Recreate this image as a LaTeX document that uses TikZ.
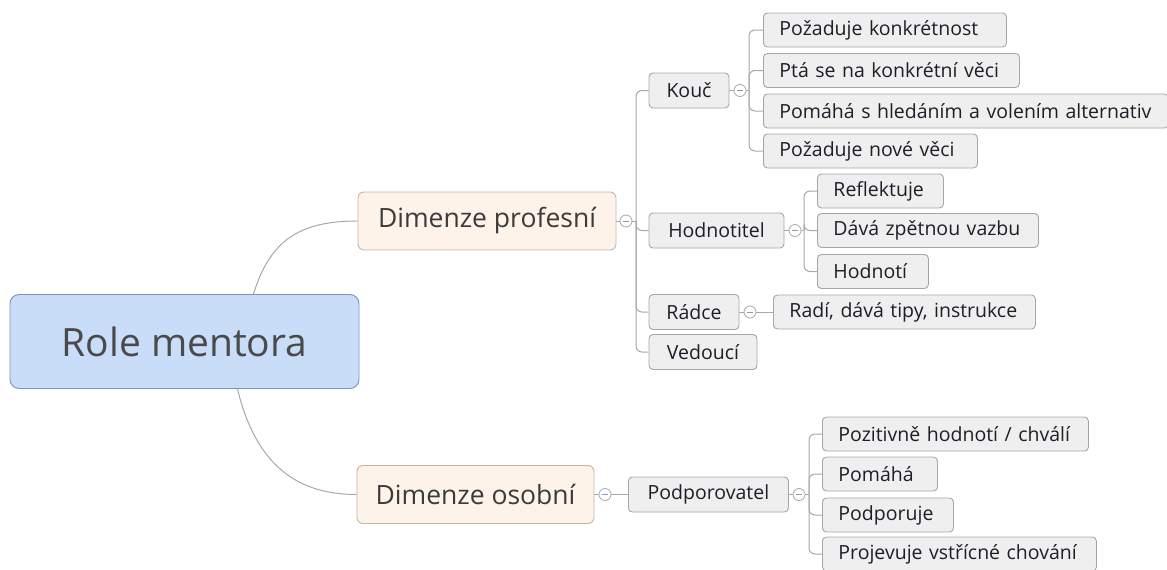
\documentclass[tikz,border=0pt]{standalone}
\usepackage{fontspec}
\setmainfont{Open Sans}
\newfontfamily\tightfont[WordSpace=0.6]{Open Sans}
\usetikzlibrary{calc}
\definecolor{rootfill}{HTML}{C9DCF8}
\definecolor{rootdraw}{HTML}{7D93BB}
\definecolor{dimfill}{HTML}{FEF3E9}
\definecolor{dimdraw}{HTML}{C4B6AA}
\definecolor{leaffill}{HTML}{EFEFEF}
\definecolor{leafdraw}{HTML}{A6A6A6}
\definecolor{linecol}{HTML}{A8A8A8}
\definecolor{textdark}{HTML}{1E1E28}
\definecolor{textroot}{HTML}{4A4A4A}
\definecolor{minuscol}{HTML}{8A98C8}
\tikzset{
  rootbox/.style={draw=rootdraw, fill=rootfill, rounded corners=9, line width=0.9pt,
    minimum width=349, minimum height=94, inner sep=0,
    font=\fontsize{39}{42}\selectfont, text=textroot},
  dimbox/.style={draw=dimdraw, fill=dimfill, rounded corners=6, line width=0.9pt,
    minimum height=58, inner sep=0, font=\fontsize{26.5}{29}\selectfont, text=textroot!80!black},
  topicbox/.style={draw=leafdraw, fill=leaffill, rounded corners=4, line width=0.9pt,
    minimum height=35, inner sep=0, font=\fontsize{19.5}{22}\selectfont, text=textdark},
  leafbox/.style={draw=leafdraw, fill=leaffill, rounded corners=4, line width=0.9pt,
    minimum height=34, inner ysep=0, inner xsep=16, align=left, anchor=west,
    font=\fontsize{19.5}{22}\selectfont, text=textdark},
  fold/.style={circle, draw=linecol, fill=white, line width=0.8pt, minimum size=12, inner sep=0,
    path picture={\draw[minuscol, line width=0.8pt]
      ([xshift=-3pt]path picture bounding box.center) -- ([xshift=3pt]path picture bounding box.center);}},
  conn/.style={draw=linecol, line width=1pt},
  branch/.style={conn, rounded corners=6},
}
\begin{document}
\begin{tikzpicture}[x=1pt, y=-1pt]
\useasboundingbox (0,0) rectangle (1167,570);

% central topic and its two main branches
\node[rootbox] (root) at (184.5,341.5) {Role mentora};
\node[dimbox, minimum width=258] (dp) at (487,221) {Dimenze profesní};
\node[dimbox, minimum width=237] (do) at (475.5,494.5) {Dimenze osobní};

\draw[conn] ($(root.north)+(69,0)$) .. controls ($(root.north)+(85,-52)$) and ($(dp.west)+(-60,0)$) .. (dp.west);
\draw[conn] ($(root.south)+(53,0)$) .. controls ($(root.south)+(70,70)$) and ($(do.west)+(-65,0)$) .. (do.west);

% professional dimension
\node[fold] (dpf) at (626,221) {};
\draw[conn] (dp.east) -- (dpf.west);
\coordinate (dpt) at (636,221);
\draw[conn] (dpf.east) -- (dpt);

\node[topicbox, minimum width=80] (ko) at (689,90.5) {Kouč};
\node[topicbox, minimum width=135] (hn) at (716.5,230.5) {Hodnotitel};
\node[topicbox, minimum width=90] (rd) at (694,312) {Rádce};
\node[topicbox, minimum width=108] (vd) at (703,352) {Vedoucí};
\foreach \t in {ko,hn,rd,vd} \draw[branch] (dpt) |- (\t.west);

% coach
\node[fold] (kof) at (740,90.5) {};
\draw[conn] (ko.east) -- (kof.west);
\coordinate (kot) at (749,90.5);
\draw[conn] (kof.east) -- (kot);
\node[leafbox, text width=211pt] (k1) at (763,30) {Požaduje konkrétnost};
\node[leafbox, text width=224pt] (k2) at (763,70.5) {Ptá se na konkrétní věci};
\node[leafbox, text width=373pt] (k3) at (763,111) {\mbox{\tightfont Pomáhá s hledáním a volením alternativ}};
\node[leafbox, text width=182pt] (k4) at (763,151) {Požaduje nové věci};
\foreach \t in {k1,k2,k3,k4} \draw[branch] (kot) |- (\t.west);

% evaluator
\node[fold] (hnf) at (795,230.5) {};
\draw[conn] (hn.east) -- (hnf.west);
\coordinate (hnt) at (804,230.5);
\draw[conn] (hnf.east) -- (hnt);
\node[leafbox, text width=94pt] (h1) at (817,191) {Reflektuje};
\node[leafbox, text width=189pt] (h2) at (817,230.5) {Dává zpětnou vazbu};
\node[leafbox, text width=79pt] (h3) at (817,271.5) {Hodnotí};
\foreach \t in {h1,h2,h3} \draw[branch] (hnt) |- (\t.west);

% advisor
\node[fold] (rdf) at (750,312) {};
\draw[conn] (rd.east) -- (rdf.west);
\node[leafbox, text width=230pt] (r1) at (773,312) {Radí, dává tipy, instrukce};
\draw[conn] (rdf.east) -- (r1.west);

% personal dimension
\node[fold] (dof) at (605,494.5) {};
\draw[conn] (do.east) -- (dof.west);
\node[topicbox, minimum width=160, anchor=west] (pp) at (628,494.5) {Podporovatel};
\draw[conn] (dof.east) -- (pp.west);
\node[fold] (ppf) at (799,494.5) {};
\draw[conn] (pp.east) -- (ppf.west);
\coordinate (ppt) at (809,494.5);
\draw[conn] (ppf.east) -- (ppt);
\node[leafbox, text width=234pt] (p1) at (822,434) {Pozitivně hodnotí / chválí};
\node[leafbox, text width=83pt] (p2) at (822,474) {Pomáhá};
\node[leafbox, text width=99pt] (p3) at (822,515) {Podporuje};
\node[leafbox, text width=242pt] (p4) at (822,554) {Projevuje vstřícné chování};
\foreach \t in {p1,p2,p3,p4} \draw[branch] (ppt) |- (\t.west);
\end{tikzpicture}
\end{document}
